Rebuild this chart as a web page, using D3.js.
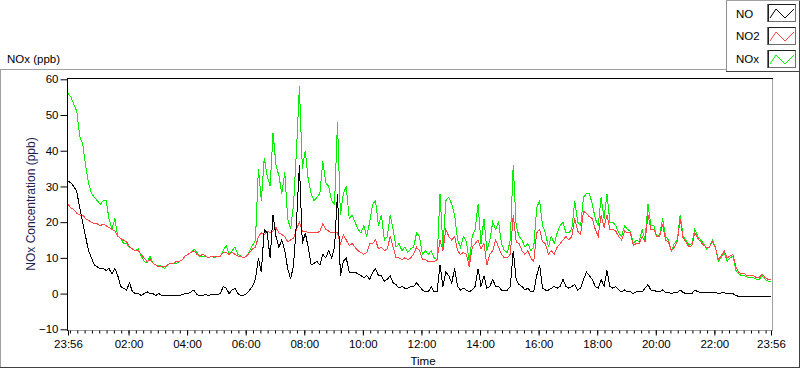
<!DOCTYPE html>
<html>
<head>
<meta charset="utf-8">
<script src="https://cdn.jsdelivr.net/npm/d3@7"></script>
<style>
  body { margin: 0; background: #fff; }
  svg { display: block; font-family: "Liberation Sans", Arial, sans-serif; }
</style>
</head>
<body>
<svg id="chart" width="800" height="369"></svg>
<script>
// one sample every 6 minutes, starting 23:56 the evening before
const START = "1999-12-31 23:56";
const STEP_MIN = 6;

const noxVals = [
  56, 55, 53, 51, 44, 42, 36, 31, 28, 27,
  26, 25, 26, 26, 21, 18, 21, 16, 15.5, 14,
  14, 13, 12.5, 12, 12.5, 10.5, 9, 8.5, 10.5, 8.5,
  8, 8, 7.5, 7, 8, 8.5, 8.5, 8.5, 9, 9.5,
  10.5, 11, 11.5, 12.5, 11.5, 10.5, 10.5, 10.5, 10, 10.5,
  10, 10.5, 10.5, 12, 13.5, 11, 12, 13, 11, 10.5,
  10, 10.5, 12, 13.5, 15, 35, 26, 38, 33, 30,
  45, 36, 33, 28, 34, 21, 18, 25, 40, 58,
  35, 40, 32, 28, 26, 27, 28, 37, 31, 30,
  26, 25, 48, 22, 28, 30, 21, 22, 20, 18,
  17, 19, 16, 20, 25, 26, 19, 22, 15, 16,
  22, 18, 13, 14, 12, 13, 11.5, 12.5, 13, 17,
  16, 11, 12, 11, 12, 10, 9.5, 28, 13, 26,
  27, 25, 22, 15, 13, 16, 14.5, 9, 16, 18,
  25, 14, 21, 12, 15, 20, 18, 20, 14, 12,
  11.5, 15, 36, 19, 16, 15, 13, 14, 12, 13,
  24, 26, 19, 17, 13, 16, 14, 17, 19, 20,
  17, 17, 18, 26, 20, 19, 27, 28, 28, 25,
  21, 19, 27, 21, 28, 20, 20, 19, 17, 16,
  19, 18, 17.5, 14, 15, 14.5, 18, 15, 25, 19,
  19, 16, 16.5, 21, 16, 15, 12, 14, 15, 22,
  16, 15, 13.5, 14, 18, 16, 15, 14, 12.5, 13,
  15, 13, 9, 10, 11.5, 9, 10, 10.5, 6.5, 5.5,
  5, 5, 4.5, 4.5, 4.5, 4, 4, 5, 4, 3.5, 3.5
];

const no2Vals = [
  25, 24, 23.5, 22.5, 22, 22, 21, 20.5, 20, 19.5,
  19.5, 19, 19.5, 19, 18.5, 18, 17.5, 16, 15.5, 15,
  14.5, 13, 12.5, 12, 12, 11, 10, 9, 9.5, 8.5,
  8, 7.5, 7.5, 7.5, 8, 8.5, 8.5, 9, 9, 9.5,
  10.5, 11, 11.5, 12, 11, 10.5, 11, 10.5, 10, 10.5,
  10.5, 10.5, 10.5, 11.5, 11.5, 11, 11.5, 11, 10.5, 10.5,
  10, 10.5, 11.5, 12.5, 13, 16, 17, 16.5, 17.5, 17,
  17.5, 18.5, 17, 16.5, 16, 14.5, 15, 15.5, 18, 20,
  17.5, 17.5, 17, 17, 17, 17, 17.5, 19.5, 18, 17.5,
  17, 17, 17, 14, 16.5, 15, 13.5, 14, 13, 12,
  11.5, 11, 11.5, 14, 14, 15, 12.5, 13, 12, 12.5,
  16, 13, 10, 10, 9.5, 10, 9.5, 10, 11, 13,
  12, 9.5, 9.5, 9, 9, 9, 9.5, 15, 12, 18,
  16, 15, 16, 12, 11, 11.5, 11, 7.5, 13, 14,
  15, 12.5, 14, 8, 11, 12, 15, 13, 11, 10,
  10, 11, 22, 14.5, 14, 12, 11, 12, 10, 9,
  17, 18, 14.5, 14, 11, 12, 11, 13, 14, 15,
  16, 15, 16, 21, 17.5, 16.5, 23, 22.5, 21.5, 21,
  18, 16, 22, 18.5, 22, 18, 18, 17.5, 16, 15,
  17.5, 17, 17, 13.5, 14, 14, 16, 14.5, 22, 18,
  18, 16, 16, 19.5, 15, 14.5, 12, 13, 14.5, 21,
  15.5, 14.5, 13, 13.5, 17, 15.5, 14.5, 13.5, 13, 13,
  14.5, 13, 9.5, 10.5, 12, 10, 10.5, 11, 7.5, 6,
  5.5, 5.5, 5, 5, 5, 4.5, 4.5, 5.5, 4.5, 4, 4
];

const noVals = [
  31.5, 31, 30, 28.5, 24, 20, 16, 12, 10, 8,
  7.5, 7, 7, 6.5, 7, 5.5, 7, 5, 2, 1.5,
  1, 3, 0.5, 0, 0, -0.5, 0, 0.5, 0, 0,
  -0.5, 0, -0.5, -0.5, -0.5, -0.5, -0.5, -0.5, -0.5, -0.3,
  0, 0, 0.5, 1, -0.3, -0.5, -0.5, -0.3, -0.5, -0.3,
  -0.3, -0.2, 0, 2, 1.5, 0, 1, 1.5, 0, -0.5,
  -0.5, 0, 1, 2, 4, 10, 6, 18, 17, 10,
  22, 16, 13, 15, 12, 7, 4, 8, 20, 36,
  14, 17, 13, 8, 8.5, 9, 8, 11, 10, 12,
  10, 13, 28, 5, 9, 10, 6, 6, 6, 5.5,
  5, 4.5, 5, 4, 6, 7, 5, 5, 3.5, 4,
  5, 3, 2.5, 1.5, 2, 1.5, 1.5, 2, 2, 3,
  2, 1, 0.5, 0.5, 2, 0.5, 0.5, 8, 2, 6,
  5, 3, 7, 2, 1, 1.5, 1, 0.5, 1, 2,
  7, 2, 5, 1.5, 2, 4, 2, 2, 1, 1,
  1, 2, 12, 4, 2.5, 2, 1, 1.5, 0.5, 0.5,
  5, 8, 1.5, 1, 1, 1.5, 2, 1.5, 2, 4,
  2, 1.5, 2, 2.5, 1, 1.5, 4, 6, 5, 4,
  2, 1.5, 4, 2, 6.5, 2, 1.5, 2, 1, 0.5,
  1, 0.5, 0.5, 0, 0.5, 0.5, 0.5, 1.5, 2.5, 1,
  1, 0.5, 0.5, 1, 0.3, 0.3, 0, 0.3, 0.3, 1,
  0.3, 0, 0, 0, 1, 0.5, 0.3, 0.3, 0.2, 0.3,
  0.3, 0.3, 0, 0.2, 0.2, 0, 0, 0, -0.5, -0.8,
  -0.8, -0.8, -0.8, -0.8, -0.8, -0.8, -0.8, -0.8, -0.8, -0.8, -0.8
];

const yTicks = [-10, 0, 10, 20, 30, 40, 50, 60];
const xTickLabels = ["23:56", "02:00", "04:00", "06:00", "08:00", "10:00", "12:00",
                     "14:00", "16:00", "18:00", "20:00", "22:00", "23:56"];
const seriesNames = ["NO", "NO2", "NOx"];
const seriesColors = ["#000000", "#ff4545", "#00f000"];


const svg = d3.select("#chart");
const parse = d3.timeParse("%Y-%m-%d %H:%M");
const t0 = parse(START);
const tEnd = d3.timeMinute.offset(t0, 1440);

const x = d3.scaleTime().domain([t0, tEnd]).range([68, 771]);
const y = d3.scaleLinear().domain([-10, 60]).range([329.3, 79.3]);

// tick positions from the label list (first/last = the 23:56 ends)
const majorTimes = xTickLabels.map((lab, i) => {
  if (i === 0) return t0;
  if (i === xTickLabels.length - 1) return tEnd;
  return parse("2000-01-01 " + lab);
});

// outer panel frame + legend box (3D-ish borders like the original)
svg.append("line").attr("x1", 0).attr("x2", 727).attr("y1", 69.5).attr("y2", 69.5).attr("stroke", "#a0a0a0");
svg.append("line").attr("x1", 0.5).attr("x2", 0.5).attr("y1", 69).attr("y2", 368).attr("stroke", "#a0a0a0");
svg.append("line").attr("x1", 0).attr("x2", 800).attr("y1", 367.5).attr("y2", 367.5).attr("stroke", "#404040");
svg.append("line").attr("x1", 799.5).attr("x2", 799.5).attr("y1", 0).attr("y2", 368).attr("stroke", "#404040");
svg.append("line").attr("x1", 726.5).attr("x2", 726.5).attr("y1", 0).attr("y2", 72).attr("stroke", "#909090");
svg.append("line").attr("x1", 726).attr("x2", 800).attr("y1", 71.5).attr("y2", 71.5).attr("stroke", "#404040");
svg.append("line").attr("x1", 726).attr("x2", 800).attr("y1", 0.5).attr("y2", 0.5).attr("stroke", "#a0a0a0");

svg.append("text").attr("x", 7).attr("y", 63)
   .attr("font-size", "11.5px").attr("fill", "#000")
   .text("NOx (ppb)");

// legend
const legend = svg.append("g");
seriesNames.forEach((name, i) => {
  const by = 4 + i * 23;
  legend.append("text").attr("x", 736).attr("y", [18, 40, 63][i])
        .attr("font-size", "11.5px").attr("fill", "#000").text(name);
  legend.append("rect").attr("x", 767.5).attr("y", by + 0.5).attr("width", 28).attr("height", 17)
        .attr("fill", "#fff").attr("stroke", "#707070");
  legend.append("path")
        .attr("d", `M768.5,${by + 17.5}V${by + 0.5}H795.5`)
        .attr("fill", "none").attr("stroke", "#202020");
  legend.append("polyline")
        .attr("points", [[770, by + 14], [776, by + 5], [785, by + 14], [794, by + 5]].join(" "))
        .attr("fill", "none").attr("stroke", seriesColors[i]).attr("stroke-width", 1);
});

// plot area
svg.append("defs").append("clipPath").attr("id", "clip")
   .append("rect").attr("x", 68).attr("y", 79).attr("width", 704).attr("height", 251);

const times = noxVals.map((_, i) => d3.timeMinute.offset(t0, i * STEP_MIN));
const line = d3.line().x((d, i) => x(times[i])).y(d => y(d));

const plot = svg.append("g").attr("clip-path", "url(#clip)");
[[noxVals, seriesColors[2]], [no2Vals, seriesColors[1]], [noVals, seriesColors[0]]].forEach(([vals, col]) => {
  plot.append("path").datum(vals)
      .attr("d", line)
      .attr("fill", "none")
      .attr("stroke", col)
      .attr("stroke-width", 1)
      .attr("shape-rendering", "crispEdges");
});

// frame: dark top/left, grey bottom/right
svg.append("line").attr("x1", 67).attr("x2", 773).attr("y1", 78.5).attr("y2", 78.5).attr("stroke", "#000");
svg.append("line").attr("x1", 67.5).attr("x2", 67.5).attr("y1", 78).attr("y2", 331).attr("stroke", "#000");
svg.append("line").attr("x1", 772.5).attr("x2", 772.5).attr("y1", 79).attr("y2", 331).attr("stroke", "#a0a0a0");
svg.append("line").attr("x1", 68).attr("x2", 773).attr("y1", 330.5).attr("y2", 330.5).attr("stroke", "#a0a0a0");

// y axis
const yAxis = svg.append("g").attr("transform", "translate(67.5,0)")
  .call(d3.axisLeft(y).tickValues(yTicks).tickSize(7).tickPadding(2));
yAxis.select(".domain").remove();
yAxis.selectAll("text").attr("font-size", "11.5px").attr("font-family", "Liberation Sans, Arial, sans-serif").attr("fill", "#000");

// x axis: minor ticks every 15 min, labelled ticks every 2 h
const xMinor = svg.append("g").attr("transform", "translate(0,330.5)")
  .call(d3.axisBottom(x).tickValues(d3.timeMinute.every(15).range(t0, tEnd)).tickSize(3).tickFormat(""));
xMinor.select(".domain").remove();

const xAxis = svg.append("g").attr("transform", "translate(0,330.5)")
  .call(d3.axisBottom(x).tickValues(majorTimes).tickSize(5).tickPadding(4)
          .tickFormat((d, i) => xTickLabels[i]));
xAxis.select(".domain").remove();
xAxis.selectAll("text").attr("font-size", "11.5px").attr("font-family", "Liberation Sans, Arial, sans-serif").attr("fill", "#000");

svg.append("text").attr("x", 423).attr("y", 365)
   .attr("text-anchor", "middle").attr("font-size", "11.5px").attr("fill", "#000")
   .text("Time");

svg.append("text")
   .attr("transform", "translate(35,204) rotate(-90)")
   .attr("text-anchor", "middle").attr("font-size", "12px").attr("fill", "#1e1e50")
   .text("NOx Concentration (ppb)");
</script>
</body>
</html>
